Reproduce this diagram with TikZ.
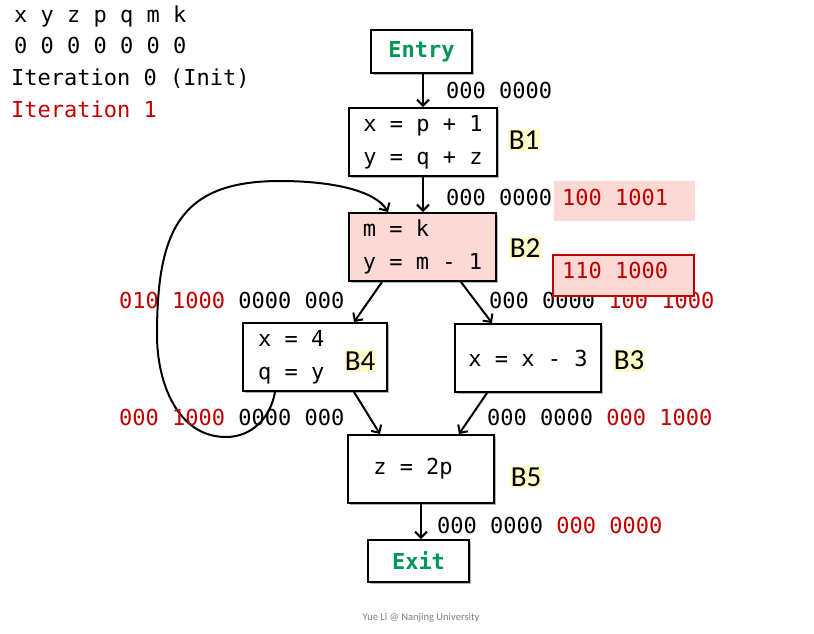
\documentclass[tikz,border=0pt]{standalone}
\usepackage{fontspec}
\setmonofont{DejaVu Sans Mono}
\setsansfont{Carlito}
\usetikzlibrary{arrows.meta,calc,shadows}
\definecolor{dred}{RGB}{192,0,0}
\definecolor{pinkfill}{RGB}{253,217,213}
\definecolor{labyel}{RGB}{255,252,200}
\definecolor{egreen}{RGB}{0,150,85}
\definecolor{footgrey}{RGB}{127,127,127}
\newcommand{\rd}[1]{\textcolor{dred}{#1}}
\tikzset{
  code/.style={font=\ttfamily\fontsize{22}{33}\selectfont, inner sep=0pt},
  bits/.style={font=\ttfamily\fontsize{22}{26}\selectfont, inner sep=0pt, anchor=west},
  blockbox/.style={draw=black, line width=2pt, fill=white, inner sep=0pt,
    drop shadow={shadow xshift=2pt, shadow yshift=-2pt, opacity=0.3, fill=black}},
  blabel/.style={font=\sffamily\fontsize{29}{30}\selectfont, fill=labyel, inner xsep=1pt, inner ysep=2pt},
  flow/.style={line width=2pt, -{Straight Barb[length=6pt,width=12pt,line width=2pt]}},
  termtext/.style={font=\ttfamily\bfseries\fontsize{22}{26}\selectfont, text=egreen}
}
\begin{document}
\begin{tikzpicture}[x=1pt,y=-1pt]
\useasboundingbox (0,0) rectangle (814,633);
% header
\node[bits] (hvars) at (14,16) {x y z p q m k};
\node[bits] (hzeros) at (14,45) {0 0 0 0 0 0 0};
\node[bits] (hit0) at (11,79) {Iteration 0 (Init)};
\node[bits, text=dred] (hit1) at (11,109) {Iteration 1};

% blocks
\node[blockbox, minimum width=101pt, minimum height=43pt] (entry) at (421.5,51.5) {};
\node[termtext] (entrytxt) at (entry.center) {Entry};

\node[blockbox, minimum width=148pt, minimum height=68pt] (b1) at (423,142) {};
\node[code, align=left] (b1txt) at (b1.center) {x = p + 1\\y = q + z};
\node[blabel] (b1lab) at (524,140) {B1};

\node[blockbox, fill=pinkfill, minimum width=147pt, minimum height=68pt] (b2) at (422.5,247) {};
\node[code, align=left] (b2txt) at (b2.center) {m = k\\y = m - 1};
\node[blabel] (b2lab) at (525,248) {B2};

\node[blockbox, minimum width=144pt, minimum height=68pt] (b4) at (315,357) {};
\node[code, align=left, anchor=west] (b4txt) at (258,357) {x = 4\\q = y};
\node[blabel] (b4lab) at (360,361) {B4};

\node[blockbox, minimum width=146pt, minimum height=68pt] (b3) at (528,358) {};
\node[code] (b3txt) at (b3.center) {x = x - 3};
\node[blabel] (b3lab) at (629,360) {B3};

\node[blockbox, minimum width=146pt, minimum height=68pt] (b5) at (421,469) {};
\node[code] (b5txt) at (413,469) {z = 2p};
\node[blabel] (b5lab) at (526,477) {B5};

\node[blockbox, minimum width=101pt, minimum height=42pt] (exit) at (418.5,561) {};
\node[termtext] (exittxt) at (exit.center) {Exit};

% edges
\draw[flow] (entry.south -| b1.north) -- (b1.north);
\draw[flow] (b1.south) -- (b1.south |- b2.north);
\draw[flow] ($(b2.south west)+(34,0)$) -- ($(b4.north west)+(112,0)$);
\draw[flow] ($(b2.south west)+(113,0)$) -- ($(b3.north west)+(38,0)$);
\draw[flow] ($(b4.south west)+(112,0)$) -- ($(b5.north west)+(33,0)$);
\draw[flow] ($(b3.south west)+(33,0)$) -- ($(b5.north west)+(112,0)$);
\draw[flow] (b5.south) -- (b5.south |- exit.north);

% back edge
\coordinate (lp1) at (226,437);
\coordinate (lp2) at (157,335);
\coordinate (lp3) at (280,181);
\draw[flow] ($(b4.south west)+(33,0)$) to[out=-100,in=0] (lp1)
  to[out=180,in=-90] (lp2) .. controls (157,230) and (180,181) .. (lp3)
  .. controls (330,181) and (375,190) .. ($(b2.north west)+(40,0)$);

% facts
\node[bits] (f0) at (446,90) {000 0000};
\node[bits] (f1) at (446,197) {000 0000};
\node[fill=pinkfill, minimum width=141pt, minimum height=40pt, inner sep=0pt] (f1box) at (624.5,201) {};
\node[bits, text=dred] (f1new) at (562,197) {100 1001};

\node[bits] (f24) at (119,300) {\rd{010 1000} 0000 000};
\node[bits] (f23) at (489,300) {000 0000 \rd{100 1000}};
\node[draw=dred, line width=2pt, fill=pinkfill, minimum width=141pt, minimum height=41pt, inner sep=0pt] (f2box) at (623.5,275.5) {};
\node[bits, text=dred] (f2new) at (562,270) {110 1000};

\node[bits] (f45) at (119,417) {\rd{000 1000} 0000 000};
\node[bits] (f35) at (487,417) {000 0000 \rd{000 1000}};
\node[bits] (f5x) at (437,525) {000 0000 \rd{000 0000}};

% footer
\node[font=\sffamily\fontsize{10.5}{12}\selectfont, text=footgrey] (foot) at (421,618) {Yue Li @ Nanjing University};
\end{tikzpicture}
\end{document}
